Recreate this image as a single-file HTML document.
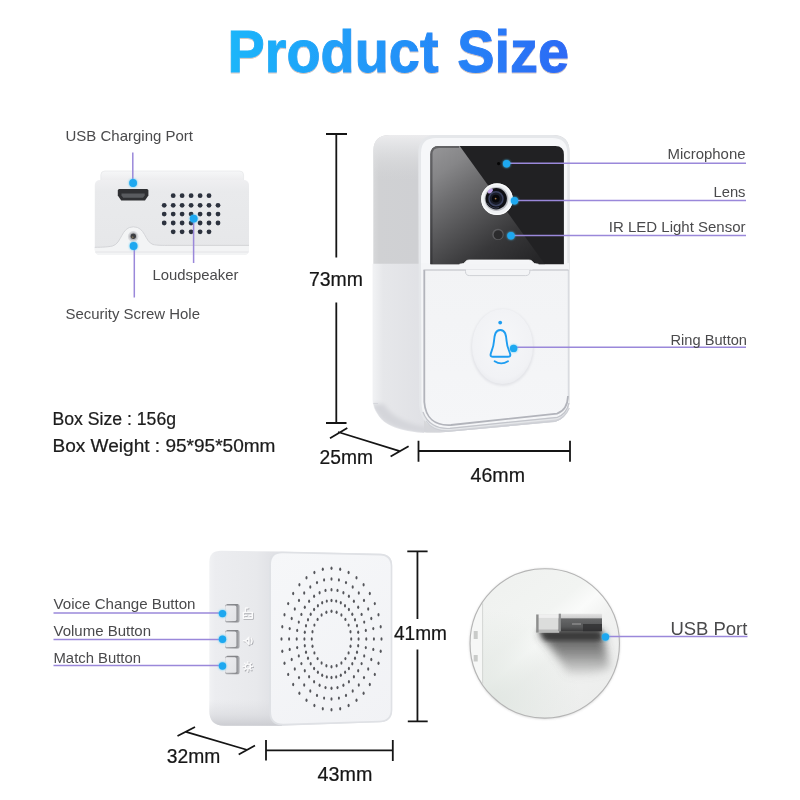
<!DOCTYPE html>
<html lang="en">
<head>
<meta charset="utf-8">
<title>Product Size</title>
<style>
html,body{margin:0;padding:0;background:#fff;}
body{width:800px;height:800px;overflow:hidden;font-family:"Liberation Sans",sans-serif;}
svg{display:block;will-change:transform;}
.lbl{font-family:"Liberation Sans",sans-serif;font-size:15px;fill:#4a4a4c;}
.dim{font-family:"Liberation Sans",sans-serif;font-size:20.5px;fill:#161616;stroke:#161616;stroke-width:0.22;}
.ln{stroke:#9a88da;stroke-width:1.5;fill:none;}
.dot{fill:#1ea8f0;filter:drop-shadow(0 0 0.9px #48c6f8);}
.dl{stroke:#151515;stroke-width:1.8;fill:none;stroke-linecap:butt;}
</style>
</head>
<body>
<svg width="800" height="800" viewBox="0 0 800 800">
<defs>
  <linearGradient id="tg" x1="0" y1="0" x2="367" y2="0" gradientUnits="userSpaceOnUse">
    <stop offset="0" stop-color="#1cb6fa"/>
    <stop offset="0.5" stop-color="#2392f8"/>
    <stop offset="1" stop-color="#2d69f5"/>
  </linearGradient>
  <filter id="tsh" x="-5%" y="-20%" width="110%" height="150%"><feDropShadow dx="0" dy="1" stdDeviation="0.7" flood-color="#7a5a3a" flood-opacity="0.35"/></filter>
  <filter id="b1" x="-20%" y="-20%" width="140%" height="140%"><feGaussianBlur stdDeviation="1"/></filter>
  <filter id="b2" x="-30%" y="-30%" width="160%" height="160%"><feGaussianBlur stdDeviation="2"/></filter>
  <filter id="b4" x="-40%" y="-40%" width="180%" height="180%"><feGaussianBlur stdDeviation="4"/></filter>
  <filter id="b6" x="-50%" y="-50%" width="200%" height="200%"><feGaussianBlur stdDeviation="6"/></filter>
</defs>
<rect width="800" height="800" fill="#ffffff"/>

<!-- TITLE -->
<text transform="translate(227.5,72) scale(0.931,1)" font-family="'Liberation Sans',sans-serif" font-weight="bold" font-size="60" word-spacing="3.6" fill="url(#tg)" stroke="url(#tg)" stroke-width="0.9" filter="url(#tsh)">Product Size</text>

<!-- BOTTOM VIEW (top-left) -->
<g id="bottomview">
  <defs>
    <linearGradient id="bvTop" x1="0" y1="0" x2="0" y2="1">
      <stop offset="0" stop-color="#f6f7f8"/><stop offset="1" stop-color="#ececee"/>
    </linearGradient>
    <linearGradient id="bvBody" x1="0" y1="0" x2="0" y2="1">
      <stop offset="0" stop-color="#efeff1"/><stop offset="0.15" stop-color="#e9eaec"/><stop offset="1" stop-color="#e6e7e9"/>
    </linearGradient>
  </defs>
  <path d="M100.8 181 V175 Q100.8 171 104.8 171 H239.6 Q243.6 171 243.6 175 V181 Z" fill="url(#bvTop)" stroke="#e3e4e6" stroke-width="0.6"/>
  <rect x="94.8" y="180" width="154.2" height="75" rx="5" ry="5" fill="url(#bvBody)"/>
  <!-- lower rim lighter -->
  <path d="M94.8 247.3 C103 247.200 108 247 112.500 246 C122 243.500 121 226.800 133.300 226.800 C145.500 226.800 144.500 241.500 153 244.500 C157 245.400 162 245.400 170 245.400 H249 V250 Q249 255 244 255 H99.8 Q94.8 255 94.8 250 Z" fill="#f3f4f5"/>
  <path d="M94.8 247.3 C103 247.200 108 247 112.500 246 C122 243.500 121 226.800 133.300 226.800 C145.500 226.800 144.500 241.500 153 244.500 C157 245.400 162 245.400 170 245.400 H249" fill="none" stroke="#d0d1d5" stroke-width="0.9"/>
  <path d="M95.5 252 H248.4" stroke="#e0e1e3" stroke-width="0.8" fill="none"/>
  <!-- usb port -->
  <path d="M119.3 189 H146.9 Q148.4 189 148.4 190.5 V195.5 L145 200.5 H121.2 L117.8 195.5 V190.5 Q117.8 189 119.3 189 Z" fill="#2f3033"/>
  <path d="M121.5 193.5 H144.7 V195.6 L143 197.8 H123.2 L121.5 195.6 Z" fill="#595b5f"/>
  <!-- speaker holes -->
  <g fill="#2c323e">
    <g id="r5"><circle cx="173.2" cy="195.7" r="2.4"/><circle cx="182.1" cy="195.7" r="2.4"/><circle cx="191.1" cy="195.7" r="2.4"/><circle cx="200.1" cy="195.7" r="2.4"/><circle cx="209" cy="195.7" r="2.4"/></g>
    <g id="r7"><circle cx="164.2" cy="205.3" r="2.4"/><circle cx="173.2" cy="205.3" r="2.4"/><circle cx="182.1" cy="205.3" r="2.4"/><circle cx="191.1" cy="205.3" r="2.4"/><circle cx="200.1" cy="205.3" r="2.4"/><circle cx="209" cy="205.3" r="2.4"/><circle cx="218" cy="205.3" r="2.4"/></g>
    <use href="#r7" y="8.8"/>
    <use href="#r7" y="17.7"/>
    <use href="#r5" y="36.1"/>
  </g>
  <!-- screw hole -->
  <circle cx="133.2" cy="236.4" r="5.3" fill="#d8d9dc"/>
  <circle cx="133.2" cy="236.4" r="3.8" fill="#b4b5b9"/>
  <circle cx="133.3" cy="236.2" r="2.7" fill="#3c3d41"/>
  <circle cx="132.6" cy="237.2" r="1" fill="#8a7a5a" opacity="0.8"/>
  <!-- leaders -->
  <path class="ln" d="M132.8 152.5 V183"/>
  <circle class="dot" cx="133.1" cy="183" r="3.9"/>
  <path class="ln" d="M193.6 218.6 V263"/>
  <circle class="dot" cx="193.7" cy="218.6" r="3.9"/>
  <path class="ln" d="M134.3 246 V297.5"/>
  <circle class="dot" cx="133.6" cy="246" r="3.9"/>
  <text class="lbl" x="65.5" y="141" textLength="127.5" lengthAdjust="spacingAndGlyphs">USB Charging Port</text>
  <text class="lbl" x="152.5" y="280.4" textLength="86" lengthAdjust="spacingAndGlyphs">Loudspeaker</text>
  <text class="lbl" x="65.5" y="319" textLength="134.5" lengthAdjust="spacingAndGlyphs">Security Screw Hole</text>
</g>

<!-- BOX TEXT -->
<g id="boxtext" font-family="'Liberation Sans',sans-serif" font-size="17.5" fill="#1c1c1c" stroke="#1c1c1c" stroke-width="0.22">
  <text x="52.5" y="425" textLength="123.5" lengthAdjust="spacingAndGlyphs">Box Size : 156g</text>
  <text x="52.5" y="451.5" textLength="223" lengthAdjust="spacingAndGlyphs">Box Weight : 95*95*50mm</text>
</g>

<!-- DOORBELL -->
<g id="doorbell">
  <defs>
    <linearGradient id="dbSide" x1="374" y1="0" x2="424" y2="0" gradientUnits="userSpaceOnUse">
      <stop offset="0" stop-color="#d6d7d9"/><stop offset="0.1" stop-color="#d0d1d3"/><stop offset="0.85" stop-color="#cfd0d3"/><stop offset="1" stop-color="#d6d7da"/>
    </linearGradient>
    <linearGradient id="dbSideLow" x1="374" y1="0" x2="424" y2="0" gradientUnits="userSpaceOnUse">
      <stop offset="0" stop-color="#f0f1f3"/><stop offset="0.18" stop-color="#e6e7ea"/><stop offset="1" stop-color="#e0e1e5"/>
    </linearGradient>
    <linearGradient id="dbSideTop" x1="0" y1="135" x2="0" y2="180" gradientUnits="userSpaceOnUse">
      <stop offset="0" stop-color="#ececee" stop-opacity="1"/><stop offset="0.25" stop-color="#e4e5e7" stop-opacity="0.85"/><stop offset="1" stop-color="#d6d7d9" stop-opacity="0"/>
    </linearGradient>
    <linearGradient id="dbGlass" x1="435" y1="150" x2="520" y2="270" gradientUnits="userSpaceOnUse">
      <stop offset="0" stop-color="#939395"/><stop offset="0.15" stop-color="#868688"/><stop offset="0.32" stop-color="#6e6e70"/><stop offset="0.55" stop-color="#515153"/><stop offset="0.75" stop-color="#38383a"/><stop offset="1" stop-color="#262628"/>
    </linearGradient>
    <linearGradient id="dbGlassV" x1="0" y1="146" x2="0" y2="264" gradientUnits="userSpaceOnUse">
      <stop offset="0" stop-color="#ffffff" stop-opacity="0.08"/><stop offset="1" stop-color="#000000" stop-opacity="0.18"/>
    </linearGradient>
    <linearGradient id="dbPanel" x1="0" y1="264" x2="0" y2="430" gradientUnits="userSpaceOnUse">
      <stop offset="0" stop-color="#f2f3f5"/><stop offset="1" stop-color="#f5f6f8"/>
    </linearGradient>
    <radialGradient id="dbBtn" cx="0.5" cy="0.45" r="0.6">
      <stop offset="0" stop-color="#f6f7f9"/><stop offset="0.8" stop-color="#f1f2f5"/><stop offset="1" stop-color="#e8e9ed"/>
    </radialGradient>
    <radialGradient id="lensRing" cx="0.45" cy="0.4" r="0.65">
      <stop offset="0.6" stop-color="#c9cbd0"/><stop offset="0.8" stop-color="#f4f5f8"/><stop offset="1" stop-color="#e2e4e8"/>
    </radialGradient>
    <radialGradient id="lensG" cx="0.45" cy="0.45" r="0.6">
      <stop offset="0" stop-color="#20222c"/><stop offset="0.55" stop-color="#2b3146"/><stop offset="0.7" stop-color="#14151b"/><stop offset="1" stop-color="#08080a"/>
    </radialGradient>
    <clipPath id="dbClip"><path d="M373.300 151 Q373.300 135 390 135 H553 Q569.500 135 569.500 152 V400 Q569.500 417 555 422 L440 432.600 C412 433 386 428 378.500 415 Q373.300 408 373.300 400 Z"/></clipPath>
    <clipPath id="glassClip"><path d="M430.400 154.500 Q430.400 146 438.900 146 H555.400 Q563.900 146 563.900 154.500 V264.200 H430.400 Z"/></clipPath>
  </defs>
  <!-- whole silhouette (side face colour) -->
  <path d="M373.300 151 Q373.300 135 390 135 H553 Q569.500 135 569.500 152 V400 Q569.500 417 555 422 L440 432.600 C412 433 386 428 378.500 415 Q373.300 408 373.300 400 Z" fill="url(#dbSide)"/>
  <!-- lower side (below seam) slightly lighter -->
  <path d="M372.600 263.700 H424 V433 C408 432 386 428 378 415 Q372.600 408 372.600 400 Z" fill="url(#dbSideLow)"/>
  <g clip-path="url(#dbClip)">
    <path d="M370 404 Q374 410 378 415 C386 428 412 433 440 434.500 L556 424 Q566 420 570 408 L566 410 Q560 417 552 418.500 L444 429 C412 427 392 418 384 404 Z" fill="#d4d5da" filter="url(#b2)"/>
  </g>
  <path d="M373.300 403.500 H378" stroke="#cfd0d5" stroke-width="0.700"/>
  <g clip-path="url(#dbClip)"><rect x="372" y="134" width="70" height="46" fill="url(#dbSideTop)"/></g>
  <!-- front face bezel -->
  <path d="M418.300 153 Q418.300 135 436 135 H553 Q569.500 135.500 569.500 152 V400 Q569.500 415 556 419.500 L448 430.200 C430 430.500 420.500 421 419 405 Z" fill="#e5e7ea"/>
  <path d="M421 153 Q421 138 436 138 H552 Q567.300 138 567.300 153 V263 H421 Z" fill="#f6f7f9"/>
  <path d="M421 263 H569 V399 Q568.800 413 556.500 416.800 L449 427.800 C432 428.300 422.500 420 421.500 404 Z" fill="#f4f5f7"/>
  <path d="M423 412 C427 423.500 437 429.300 450 428.400 L557.500 417.300 Q566.500 414 569 403" fill="none" stroke="#c3c5cb" stroke-width="1.200"/>
  <path d="M426 421 C431 428.500 441 431.800 452 431 L556 421 Q565 418 569.300 408" fill="none" stroke="#cdcfd5" stroke-width="1.200"/>
  <!-- glass -->
  <path d="M430.400 154.500 Q430.400 146 438.900 146 H555.400 Q563.900 146 563.900 154.500 V264.200 H430.400 Z" fill="#212123"/>
  <g clip-path="url(#glassClip)">
    <path d="M430 145 H459 L545 264.500 H430 Z" fill="url(#dbGlass)"/>
    <path d="M431.400 264 V154.500 Q431.400 147 438.900 147 H459" fill="none" stroke="#1c1c1e" stroke-width="2.200" opacity="0.4"/>
  </g>
  <!-- mic -->
  <circle cx="498.600" cy="163.600" r="1.600" fill="#050505"/>
  <!-- lens -->
  <circle cx="497" cy="199.200" r="15.700" fill="#eef0f3"/>
  <circle cx="497" cy="199.200" r="15.200" fill="none" stroke="#fafbfc" stroke-width="1.400"/>
  <circle cx="496.500" cy="199" r="11.900" fill="#b9bbc1"/>
  <circle cx="496.200" cy="198.800" r="10.700" fill="#0e0f14"/>
  <circle cx="496" cy="198.700" r="7" fill="#1a1d2a" stroke="#3b4260" stroke-width="1.500"/>
  <circle cx="495.800" cy="198.600" r="3.900" fill="#07070a"/>
  <ellipse cx="490.400" cy="191" rx="3" ry="1.800" fill="#c4a8ee" opacity="0.95" transform="rotate(-40 490.400 191)"/>
  <path d="M487.500 203 A9.400 9.400 0 0 0 499 207.600" fill="none" stroke="#5a6080" stroke-width="1" opacity="0.6"/>
  <circle cx="495.600" cy="198.600" r="0.900" fill="#c08a52" opacity="0.9"/>
  <!-- IR sensor -->
  <circle cx="498" cy="234.400" r="5.700" fill="#5c5c5f"/>
  <circle cx="498.200" cy="234.800" r="4.500" fill="#2b2b2d"/>
  <!-- button panel -->
  <path d="M424.300 270 H568 V396 Q568 410 557 413.600 L451 425 C435 426 425.500 418 424.500 402 Z" fill="url(#dbPanel)"/>
  <path d="M424.300 270 V402 C425.500 418 435 426 451 425 L557 413.600 Q567.500 410 568 396" fill="none" stroke="#b2b4bb" stroke-width="1.800"/>
  <path d="M568.300 270 V396" stroke="#d3d5da" stroke-width="1" fill="none"/>
  <path d="M423.500 270 H568.500" stroke="#b9bbc1" stroke-width="1.100" fill="none"/>
  <!-- tab -->
  <path d="M459.500 264.200 Q464.500 264 465.500 261.800 Q466.200 260 469 260 H529 Q531.800 260 532.500 261.800 Q533.500 264 538.500 264.200 V265 H459.500 Z" fill="#f4f5f7"/>
  <path d="M465.500 264 H532.500 V269.500 L529.800 269.500 V271.500 Q529.800 275.600 525.500 275.600 H469.800 Q465.500 275.600 465.500 271.500 Z" fill="#f3f4f6"/>
  <path d="M459.500 264.200 Q464.500 264 465.500 261.800 Q466.200 260 469 260 H529 Q531.800 260 532.500 261.800 Q533.500 264 538.500 264.200" fill="none" stroke="#fbfbfc" stroke-width="0.800"/>
  <path d="M465.500 269.500 V271.500 Q465.500 275.600 469.800 275.600 H525.500 Q529.800 275.600 529.800 271.500 V269.500" fill="none" stroke="#cfd1d6" stroke-width="1"/>
  <path d="M466 269.500 H529.500" stroke="#e6e7ea" stroke-width="1.100" fill="none"/>
  <!-- ring button -->
  <ellipse cx="502.500" cy="347.500" rx="31.500" ry="38.500" fill="#e3e4e8" filter="url(#b1)"/>
  <ellipse cx="502.500" cy="346.500" rx="30.500" ry="37.500" fill="url(#dbBtn)"/>
  <!-- bell -->
  <g fill="none" stroke="#1e9df1" stroke-width="1.900" stroke-linecap="round" stroke-linejoin="round">
    <path d="M500.300 330 C495.300 330 494.500 335 494 341 C493.500 348 491.200 351 490.600 354.500 C490.300 356.300 491.500 356.800 493 356.800 H508 C509.600 356.800 510.600 356.300 510.300 354.500 C509.600 351 507.100 348 506.600 341 C506.100 335 505.300 330 500.300 330 Z"/>
    <path d="M494.600 361.200 Q501.200 365.500 508 361.200"/>
  </g>
  <circle cx="500.200" cy="322.600" r="1.900" fill="#1e9df1"/>
  <!-- leaders -->
  <path class="ln" d="M507 163.200 H746"/>
  <circle class="dot" cx="506.600" cy="163.800" r="3.700"/>
  <path class="ln" d="M515 200.600 H746"/>
  <circle class="dot" cx="514.500" cy="200.800" r="3.700"/>
  <path class="ln" d="M510 235.500 H746"/>
  <circle class="dot" cx="511" cy="235.800" r="3.700"/>
  <path class="ln" d="M513.600 347.300 H746"/>
  <circle class="dot" cx="513.600" cy="348.400" r="3.700"/>
  <text class="lbl" x="667.500" y="158.800" textLength="78" lengthAdjust="spacingAndGlyphs">Microphone</text>
  <text class="lbl" x="713.500" y="197" textLength="32" lengthAdjust="spacingAndGlyphs">Lens</text>
  <text class="lbl" x="608.800" y="232" textLength="136.700" lengthAdjust="spacingAndGlyphs">IR LED Light Sensor</text>
  <text class="lbl" x="670.500" y="345" textLength="76.500" lengthAdjust="spacingAndGlyphs">Ring Button</text>
</g>

<!-- DIMS 1 -->
<g id="dims1">
  <path class="dl" d="M326 134 H347 M336.3 134 V257.500 M336.300 302.500 V423 M326 423 H346.500"/>
  <path class="dl" d="M338 432 L400.500 451.300 M330 438.300 L347.300 428 M390.600 456.500 L408.600 446.300"/>
  <path class="dl" d="M418.500 451 H570 M418.500 440.700 V461.700 M570 440.700 V461.700"/>
  <text class="dim" x="309" y="286" textLength="54" lengthAdjust="spacingAndGlyphs">73mm</text>
  <text class="dim" x="319.500" y="464.400" textLength="53.500" lengthAdjust="spacingAndGlyphs">25mm</text>
  <text class="dim" x="470.600" y="482.400" textLength="54.400" lengthAdjust="spacingAndGlyphs">46mm</text>
</g>

<!-- RECEIVER -->
<g id="receiver">
  <defs>
    <linearGradient id="rcSide" x1="209" y1="0" x2="272" y2="0" gradientUnits="userSpaceOnUse">
      <stop offset="0" stop-color="#f1f2f4"/><stop offset="0.1" stop-color="#ecedf0"/><stop offset="0.75" stop-color="#e8e9ec"/><stop offset="1" stop-color="#e1e2e6"/>
    </linearGradient>
    <linearGradient id="rcFront" x1="270" y1="551" x2="392" y2="730" gradientUnits="userSpaceOnUse">
      <stop offset="0" stop-color="#f6f7f9"/><stop offset="1" stop-color="#f1f2f5"/>
    </linearGradient>
    <linearGradient id="rcBev" x1="0" y1="700" x2="0" y2="726" gradientUnits="userSpaceOnUse">
      <stop offset="0" stop-color="#dcdde1" stop-opacity="0"/><stop offset="0.55" stop-color="#d8d9dd" stop-opacity="0.6"/><stop offset="1" stop-color="#cbccd1" stop-opacity="1"/>
    </linearGradient>
    <linearGradient id="btnF" x1="0" y1="0" x2="1" y2="1">
      <stop offset="0" stop-color="#ececef"/><stop offset="1" stop-color="#e2e3e6"/>
    </linearGradient>
    <linearGradient id="btnSide" x1="0" y1="0" x2="1" y2="0">
      <stop offset="0" stop-color="#b0b1b5"/><stop offset="0.75" stop-color="#8a8b8f"/><stop offset="0.88" stop-color="#9c9da1"/><stop offset="1" stop-color="#c4c5c9"/>
    </linearGradient>
  </defs>
  <!-- body silhouette -->
  <path d="M209.300 562 Q209.300 550.800 221 550.800 L282 551.600 L380.500 553.800 Q392.200 554.200 392.200 566 V710 Q392.200 721.500 380 722.300 L282 725.800 H224 Q209.300 725.500 209.300 711 Z" fill="url(#rcSide)"/>
  <!-- bottom bevel of side -->
  <path d="M209.300 700 H282 V725.800 H224 Q209.300 725.500 209.300 711 Z" fill="url(#rcBev)"/>
  <!-- front face -->
  <path d="M269.300 563.500 Q269.300 551.500 282 551.700 L380.500 553.800 Q392.200 554.200 392.200 566 V710 Q392.200 721.500 380 722.300 L283 725.400 Q269.300 725.600 269.300 712 Z" fill="#dfe1e5"/>
  <path d="M271 564.500 Q271 553.100 282.500 553.300 L380 555.400 Q390.700 555.800 390.700 566.500 V709.500 Q390.700 720.300 379.500 720.800 L283.500 723.800 Q271 724 271 711.500 Z" fill="url(#rcFront)"/>
  <!-- grille -->
  <g fill="#55565b">
<ellipse cx="351.2" cy="639.0" rx="1.05" ry="1.7"/>
<ellipse cx="350.5" cy="646.2" rx="1.05" ry="1.7"/>
<ellipse cx="348.6" cy="652.9" rx="1.05" ry="1.7"/>
<ellipse cx="345.4" cy="658.6" rx="1.05" ry="1.7"/>
<ellipse cx="341.4" cy="663.0" rx="1.05" ry="1.7"/>
<ellipse cx="336.6" cy="665.8" rx="1.05" ry="1.7"/>
<ellipse cx="331.5" cy="666.7" rx="1.05" ry="1.7"/>
<ellipse cx="326.4" cy="665.8" rx="1.05" ry="1.7"/>
<ellipse cx="321.6" cy="663.0" rx="1.05" ry="1.7"/>
<ellipse cx="317.6" cy="658.6" rx="1.05" ry="1.7"/>
<ellipse cx="314.4" cy="652.9" rx="1.05" ry="1.7"/>
<ellipse cx="312.5" cy="646.2" rx="1.05" ry="1.7"/>
<ellipse cx="311.8" cy="639.0" rx="1.05" ry="1.7"/>
<ellipse cx="312.5" cy="631.8" rx="1.05" ry="1.7"/>
<ellipse cx="314.4" cy="625.1" rx="1.05" ry="1.7"/>
<ellipse cx="317.6" cy="619.4" rx="1.05" ry="1.7"/>
<ellipse cx="321.6" cy="615.0" rx="1.05" ry="1.7"/>
<ellipse cx="326.4" cy="612.2" rx="1.05" ry="1.7"/>
<ellipse cx="331.5" cy="611.3" rx="1.05" ry="1.7"/>
<ellipse cx="336.6" cy="612.2" rx="1.05" ry="1.7"/>
<ellipse cx="341.4" cy="615.0" rx="1.05" ry="1.7"/>
<ellipse cx="345.4" cy="619.4" rx="1.05" ry="1.7"/>
<ellipse cx="348.6" cy="625.1" rx="1.05" ry="1.7"/>
<ellipse cx="350.5" cy="631.8" rx="1.05" ry="1.7"/>
<ellipse cx="358.6" cy="639.0" rx="1.05" ry="1.7"/>
<ellipse cx="358.2" cy="645.7" rx="1.05" ry="1.7"/>
<ellipse cx="357.0" cy="652.2" rx="1.05" ry="1.7"/>
<ellipse cx="355.0" cy="658.2" rx="1.05" ry="1.7"/>
<ellipse cx="352.3" cy="663.7" rx="1.05" ry="1.7"/>
<ellipse cx="348.9" cy="668.5" rx="1.05" ry="1.7"/>
<ellipse cx="345.1" cy="672.3" rx="1.05" ry="1.7"/>
<ellipse cx="340.8" cy="675.2" rx="1.05" ry="1.7"/>
<ellipse cx="336.2" cy="676.9" rx="1.05" ry="1.7"/>
<ellipse cx="331.5" cy="677.5" rx="1.05" ry="1.7"/>
<ellipse cx="326.8" cy="676.9" rx="1.05" ry="1.7"/>
<ellipse cx="322.2" cy="675.2" rx="1.05" ry="1.7"/>
<ellipse cx="317.9" cy="672.3" rx="1.05" ry="1.7"/>
<ellipse cx="314.1" cy="668.5" rx="1.05" ry="1.7"/>
<ellipse cx="310.7" cy="663.7" rx="1.05" ry="1.7"/>
<ellipse cx="308.0" cy="658.2" rx="1.05" ry="1.7"/>
<ellipse cx="306.0" cy="652.2" rx="1.05" ry="1.7"/>
<ellipse cx="304.8" cy="645.7" rx="1.05" ry="1.7"/>
<ellipse cx="304.4" cy="639.0" rx="1.05" ry="1.7"/>
<ellipse cx="304.8" cy="632.3" rx="1.05" ry="1.7"/>
<ellipse cx="306.0" cy="625.8" rx="1.05" ry="1.7"/>
<ellipse cx="308.0" cy="619.8" rx="1.05" ry="1.7"/>
<ellipse cx="310.7" cy="614.3" rx="1.05" ry="1.7"/>
<ellipse cx="314.1" cy="609.5" rx="1.05" ry="1.7"/>
<ellipse cx="317.9" cy="605.7" rx="1.05" ry="1.7"/>
<ellipse cx="322.2" cy="602.8" rx="1.05" ry="1.7"/>
<ellipse cx="326.8" cy="601.1" rx="1.05" ry="1.7"/>
<ellipse cx="331.5" cy="600.5" rx="1.05" ry="1.7"/>
<ellipse cx="336.2" cy="601.1" rx="1.05" ry="1.7"/>
<ellipse cx="340.8" cy="602.8" rx="1.05" ry="1.7"/>
<ellipse cx="345.0" cy="605.7" rx="1.05" ry="1.7"/>
<ellipse cx="348.9" cy="609.5" rx="1.05" ry="1.7"/>
<ellipse cx="352.3" cy="614.3" rx="1.05" ry="1.7"/>
<ellipse cx="355.0" cy="619.8" rx="1.05" ry="1.7"/>
<ellipse cx="357.0" cy="625.8" rx="1.05" ry="1.7"/>
<ellipse cx="358.2" cy="632.3" rx="1.05" ry="1.7"/>
<ellipse cx="366.3" cy="639.0" rx="1.05" ry="1.7"/>
<ellipse cx="365.8" cy="647.6" rx="1.05" ry="1.7"/>
<ellipse cx="364.2" cy="655.9" rx="1.05" ry="1.7"/>
<ellipse cx="361.6" cy="663.6" rx="1.05" ry="1.7"/>
<ellipse cx="358.2" cy="670.7" rx="1.05" ry="1.7"/>
<ellipse cx="353.9" cy="676.8" rx="1.05" ry="1.7"/>
<ellipse cx="348.9" cy="681.7" rx="1.05" ry="1.7"/>
<ellipse cx="343.4" cy="685.3" rx="1.05" ry="1.7"/>
<ellipse cx="337.5" cy="687.6" rx="1.05" ry="1.7"/>
<ellipse cx="331.5" cy="688.3" rx="1.05" ry="1.7"/>
<ellipse cx="325.5" cy="687.6" rx="1.05" ry="1.7"/>
<ellipse cx="319.6" cy="685.3" rx="1.05" ry="1.7"/>
<ellipse cx="314.1" cy="681.7" rx="1.05" ry="1.7"/>
<ellipse cx="309.1" cy="676.8" rx="1.05" ry="1.7"/>
<ellipse cx="304.8" cy="670.7" rx="1.05" ry="1.7"/>
<ellipse cx="301.4" cy="663.6" rx="1.05" ry="1.7"/>
<ellipse cx="298.8" cy="655.9" rx="1.05" ry="1.7"/>
<ellipse cx="297.2" cy="647.6" rx="1.05" ry="1.7"/>
<ellipse cx="296.7" cy="639.0" rx="1.05" ry="1.7"/>
<ellipse cx="297.2" cy="630.4" rx="1.05" ry="1.7"/>
<ellipse cx="298.8" cy="622.1" rx="1.05" ry="1.7"/>
<ellipse cx="301.4" cy="614.4" rx="1.05" ry="1.7"/>
<ellipse cx="304.8" cy="607.3" rx="1.05" ry="1.7"/>
<ellipse cx="309.1" cy="601.2" rx="1.05" ry="1.7"/>
<ellipse cx="314.1" cy="596.3" rx="1.05" ry="1.7"/>
<ellipse cx="319.6" cy="592.7" rx="1.05" ry="1.7"/>
<ellipse cx="325.5" cy="590.4" rx="1.05" ry="1.7"/>
<ellipse cx="331.5" cy="589.7" rx="1.05" ry="1.7"/>
<ellipse cx="337.5" cy="590.4" rx="1.05" ry="1.7"/>
<ellipse cx="343.4" cy="592.7" rx="1.05" ry="1.7"/>
<ellipse cx="348.9" cy="596.3" rx="1.05" ry="1.7"/>
<ellipse cx="353.9" cy="601.2" rx="1.05" ry="1.7"/>
<ellipse cx="358.2" cy="607.3" rx="1.05" ry="1.7"/>
<ellipse cx="361.6" cy="614.4" rx="1.05" ry="1.7"/>
<ellipse cx="364.2" cy="622.1" rx="1.05" ry="1.7"/>
<ellipse cx="365.8" cy="630.4" rx="1.05" ry="1.7"/>
<ellipse cx="373.9" cy="639.0" rx="1.05" ry="1.7"/>
<ellipse cx="373.3" cy="649.4" rx="1.05" ry="1.7"/>
<ellipse cx="371.3" cy="659.5" rx="1.05" ry="1.7"/>
<ellipse cx="368.2" cy="669.0" rx="1.05" ry="1.7"/>
<ellipse cx="364.0" cy="677.6" rx="1.05" ry="1.7"/>
<ellipse cx="358.8" cy="685.0" rx="1.05" ry="1.7"/>
<ellipse cx="352.7" cy="691.0" rx="1.05" ry="1.7"/>
<ellipse cx="346.0" cy="695.4" rx="1.05" ry="1.7"/>
<ellipse cx="338.9" cy="698.1" rx="1.05" ry="1.7"/>
<ellipse cx="331.5" cy="699.0" rx="1.05" ry="1.7"/>
<ellipse cx="324.1" cy="698.1" rx="1.05" ry="1.7"/>
<ellipse cx="317.0" cy="695.4" rx="1.05" ry="1.7"/>
<ellipse cx="310.3" cy="691.0" rx="1.05" ry="1.7"/>
<ellipse cx="304.2" cy="685.0" rx="1.05" ry="1.7"/>
<ellipse cx="299.0" cy="677.6" rx="1.05" ry="1.7"/>
<ellipse cx="294.8" cy="669.0" rx="1.05" ry="1.7"/>
<ellipse cx="291.7" cy="659.5" rx="1.05" ry="1.7"/>
<ellipse cx="289.7" cy="649.4" rx="1.05" ry="1.7"/>
<ellipse cx="289.1" cy="639.0" rx="1.05" ry="1.7"/>
<ellipse cx="289.7" cy="628.6" rx="1.05" ry="1.7"/>
<ellipse cx="291.7" cy="618.5" rx="1.05" ry="1.7"/>
<ellipse cx="294.8" cy="609.0" rx="1.05" ry="1.7"/>
<ellipse cx="299.0" cy="600.4" rx="1.05" ry="1.7"/>
<ellipse cx="304.2" cy="593.0" rx="1.05" ry="1.7"/>
<ellipse cx="310.3" cy="587.0" rx="1.05" ry="1.7"/>
<ellipse cx="317.0" cy="582.6" rx="1.05" ry="1.7"/>
<ellipse cx="324.1" cy="579.9" rx="1.05" ry="1.7"/>
<ellipse cx="331.5" cy="579.0" rx="1.05" ry="1.7"/>
<ellipse cx="338.9" cy="579.9" rx="1.05" ry="1.7"/>
<ellipse cx="346.0" cy="582.6" rx="1.05" ry="1.7"/>
<ellipse cx="352.7" cy="587.0" rx="1.05" ry="1.7"/>
<ellipse cx="358.8" cy="593.0" rx="1.05" ry="1.7"/>
<ellipse cx="364.0" cy="600.4" rx="1.05" ry="1.7"/>
<ellipse cx="368.2" cy="609.0" rx="1.05" ry="1.7"/>
<ellipse cx="371.3" cy="618.5" rx="1.05" ry="1.7"/>
<ellipse cx="373.3" cy="628.6" rx="1.05" ry="1.7"/>
<ellipse cx="381.5" cy="639.0" rx="1.05" ry="1.7"/>
<ellipse cx="380.7" cy="651.3" rx="1.05" ry="1.7"/>
<ellipse cx="378.5" cy="663.2" rx="1.05" ry="1.7"/>
<ellipse cx="374.8" cy="674.4" rx="1.05" ry="1.7"/>
<ellipse cx="369.8" cy="684.5" rx="1.05" ry="1.7"/>
<ellipse cx="363.6" cy="693.2" rx="1.05" ry="1.7"/>
<ellipse cx="356.5" cy="700.3" rx="1.05" ry="1.7"/>
<ellipse cx="348.6" cy="705.5" rx="1.05" ry="1.7"/>
<ellipse cx="340.2" cy="708.7" rx="1.05" ry="1.7"/>
<ellipse cx="331.5" cy="709.8" rx="1.05" ry="1.7"/>
<ellipse cx="322.8" cy="708.7" rx="1.05" ry="1.7"/>
<ellipse cx="314.4" cy="705.5" rx="1.05" ry="1.7"/>
<ellipse cx="306.5" cy="700.3" rx="1.05" ry="1.7"/>
<ellipse cx="299.4" cy="693.2" rx="1.05" ry="1.7"/>
<ellipse cx="293.2" cy="684.5" rx="1.05" ry="1.7"/>
<ellipse cx="288.2" cy="674.4" rx="1.05" ry="1.7"/>
<ellipse cx="284.5" cy="663.2" rx="1.05" ry="1.7"/>
<ellipse cx="282.3" cy="651.3" rx="1.05" ry="1.7"/>
<ellipse cx="281.5" cy="639.0" rx="1.05" ry="1.7"/>
<ellipse cx="282.3" cy="626.7" rx="1.05" ry="1.7"/>
<ellipse cx="284.5" cy="614.8" rx="1.05" ry="1.7"/>
<ellipse cx="288.2" cy="603.6" rx="1.05" ry="1.7"/>
<ellipse cx="293.2" cy="593.5" rx="1.05" ry="1.7"/>
<ellipse cx="299.4" cy="584.8" rx="1.05" ry="1.7"/>
<ellipse cx="306.5" cy="577.7" rx="1.05" ry="1.7"/>
<ellipse cx="314.4" cy="572.5" rx="1.05" ry="1.7"/>
<ellipse cx="322.8" cy="569.3" rx="1.05" ry="1.7"/>
<ellipse cx="331.5" cy="568.2" rx="1.05" ry="1.7"/>
<ellipse cx="340.2" cy="569.3" rx="1.05" ry="1.7"/>
<ellipse cx="348.6" cy="572.5" rx="1.05" ry="1.7"/>
<ellipse cx="356.5" cy="577.7" rx="1.05" ry="1.7"/>
<ellipse cx="363.6" cy="584.8" rx="1.05" ry="1.7"/>
<ellipse cx="369.8" cy="593.5" rx="1.05" ry="1.7"/>
<ellipse cx="374.8" cy="603.6" rx="1.05" ry="1.7"/>
<ellipse cx="378.5" cy="614.8" rx="1.05" ry="1.7"/>
<ellipse cx="380.7" cy="626.7" rx="1.05" ry="1.7"/>  </g>
  <!-- buttons -->
  <g id="rbtn">
    <rect x="225" y="604" width="14.800" height="18.600" rx="2.600" fill="url(#btnSide)"/>
    <rect x="225.200" y="605.500" width="11.200" height="15.600" rx="1.600" fill="url(#btnF)"/>
    <path d="M227 604.700 H238" stroke="#808185" stroke-width="1" fill="none" opacity="0.8"/>
  </g>
  <use href="#rbtn" y="25.900"/>
  <use href="#rbtn" y="51.750"/>
  <!-- icons -->
  <g id="ricons" fill="none" stroke-linejoin="round" stroke-linecap="round">
    <use href="#ric" x="0.700" y="0.800" stroke="#a9aaaf" stroke-width="1.500"/>
    <g id="ric" stroke-width="1.500">
      <path d="M243.400 612.600 H252.300 V618.300 H243.400 Z M245.600 612.400 V608 H248 M243.600 615.400 H246.300 M249.500 615.400 H252.200"/>
      <path d="M243.400 640.800 H245.600 L249 637.200 V644.600 L245.600 641.000 Z" />
      <path d="M251.200 638.300 Q253 640.900 251.200 643.500"/>
      <circle cx="247.900" cy="666.500" r="2.500"/>
      <path d="M247.900 661.800 V663 M247.900 670 V671.200 M243.200 666.500 H244.400 M251.400 666.500 H252.600 M244.600 663.200 L245.400 664 M250.400 669 L251.200 669.800 M244.600 669.800 L245.400 669 M250.400 664 L251.200 663.200" />
    </g>
    <use href="#ric" stroke="#fafafb" stroke-width="1.300"/>
  </g>
  <!-- leaders -->
  <path class="ln" d="M53.500 613 H222"/>
  <circle class="dot" cx="222.500" cy="613.600" r="3.700"/>
  <path class="ln" d="M53.500 639.400 H222"/>
  <circle class="dot" cx="222.500" cy="639.300" r="3.700"/>
  <path class="ln" d="M53.500 665.600 H222"/>
  <circle class="dot" cx="222.500" cy="666" r="3.700"/>
  <text class="lbl" x="53.500" y="609" textLength="142" lengthAdjust="spacingAndGlyphs">Voice Change Button</text>
  <text class="lbl" x="53.500" y="636.400" textLength="97.500" lengthAdjust="spacingAndGlyphs">Volume Button</text>
  <text class="lbl" x="53.500" y="662.500" textLength="87.500" lengthAdjust="spacingAndGlyphs">Match Button</text>
</g>

<!-- DIMS 2 -->
<g id="dims2">
  <path class="dl" d="M407.300 551.400 H427.600 M417.450 551.400 V619 M417.450 649.500 V721.300 M407.800 721.300 H427.700"/>
  <path class="dl" d="M186 731.800 L247.500 750 M177.500 736 L195 727 M238.700 754.500 L255 745.500"/>
  <path class="dl" d="M266 750.400 H392.800 M266 740 V760.600 M392.800 740 V761"/>
  <text class="dim" x="394" y="640.400" textLength="53" lengthAdjust="spacingAndGlyphs">41mm</text>
  <text class="dim" x="166.800" y="763.200" textLength="53.500" lengthAdjust="spacingAndGlyphs">32mm</text>
  <text class="dim" x="317.600" y="781.200" textLength="54.800" lengthAdjust="spacingAndGlyphs">43mm</text>
</g>

<!-- USB CIRCLE -->
<g id="usb">
  <defs>
    <linearGradient id="usbBg" x1="500" y1="590" x2="600" y2="710" gradientUnits="userSpaceOnUse">
      <stop offset="0" stop-color="#f0f2f0"/><stop offset="0.3" stop-color="#f2f4f2"/><stop offset="0.42" stop-color="#fafbfa"/><stop offset="0.55" stop-color="#f1f2f1"/><stop offset="1" stop-color="#ecedec"/>
    </linearGradient>
    <radialGradient id="usbBg2" cx="490" cy="700" r="90" gradientUnits="userSpaceOnUse">
      <stop offset="0" stop-color="#dfe5e0" stop-opacity="0.9"/><stop offset="1" stop-color="#dfe5e0" stop-opacity="0"/>
    </radialGradient>
    <linearGradient id="usbMetal" x1="0" y1="613.700" x2="0" y2="631.300" gradientUnits="userSpaceOnUse">
      <stop offset="0" stop-color="#e4e4e4"/><stop offset="0.22" stop-color="#cfcfcf"/><stop offset="0.3" stop-color="#666768"/><stop offset="0.75" stop-color="#555657"/><stop offset="1" stop-color="#3a3a3b"/>
    </linearGradient>
    <linearGradient id="usbSh" x1="0" y1="630" x2="0" y2="680" gradientUnits="userSpaceOnUse">
      <stop offset="0" stop-color="#2e2e2e" stop-opacity="0.9"/><stop offset="0.5" stop-color="#555" stop-opacity="0.6"/><stop offset="0.8" stop-color="#777" stop-opacity="0.3"/><stop offset="1" stop-color="#888" stop-opacity="0"/>
    </linearGradient>
    <clipPath id="usbClip"><circle cx="544.750" cy="643.400" r="74.200"/></clipPath>
  </defs>
  <circle cx="544.750" cy="643.900" r="75.300" fill="#c8c8c8" filter="url(#b1)" opacity="0.7"/>
  <circle cx="544.750" cy="643.400" r="74.700" fill="url(#usbBg)"/>
  <circle cx="544.750" cy="643.400" r="74.700" fill="url(#usbBg2)"/>
  <g clip-path="url(#usbClip)">
    <rect x="465" y="560" width="17.500" height="170" fill="#f6f7f6"/>
    <path d="M482.600 600 V692" stroke="#d0d2d0" stroke-width="0.900" fill="none"/>
    <rect x="473.700" y="631" width="4" height="8" fill="#c9cbc9"/>
    <rect x="473.700" y="655" width="4" height="6.500" fill="#c9cbc9"/>
    <!-- shadow -->
    <path d="M540 631 H602 L610 668 Q592 677 568 674 Q556 652 540 636 Z" fill="url(#usbSh)" filter="url(#b4)"/>
    <path d="M538 630 H601 L602 640 H545 Z" fill="#2a2a2a" opacity="0.75" filter="url(#b2)"/>
  </g>
  <!-- plug -->
  <rect x="536.200" y="614.500" width="23" height="18" fill="#dcdddc"/>
  <rect x="536.200" y="614.500" width="23" height="3.400" fill="#efefef"/>
  <rect x="536.200" y="629.500" width="23" height="3" fill="#b9bab9"/>
  <rect x="536.200" y="614.500" width="2.400" height="18" fill="#8d8e8d"/>
  <rect x="558.700" y="613.700" width="43.300" height="17.600" rx="0.800" fill="url(#usbMetal)"/>
  <rect x="558.700" y="613.700" width="2.200" height="17.600" fill="#8e8f90"/>
  <rect x="583" y="624" width="19" height="7.300" fill="#2e2e2f" opacity="0.75"/>
  <rect x="572" y="623.200" width="9" height="1.600" fill="#9a9a9a" opacity="0.7"/>
  <circle cx="544.750" cy="643.400" r="74.700" fill="none" stroke="#b4b4b4" stroke-width="1.100"/>
  <!-- leader -->
  <path class="ln" d="M605.500 636.600 H747.500"/>
  <circle class="dot" cx="605.500" cy="637" r="3.700"/>
  <text x="670.400" y="634.500" font-family="'Liberation Sans',sans-serif" font-size="18.500" fill="#4a4a4c" textLength="77" lengthAdjust="spacingAndGlyphs">USB Port</text>
</g>

</svg>
</body>
</html>
